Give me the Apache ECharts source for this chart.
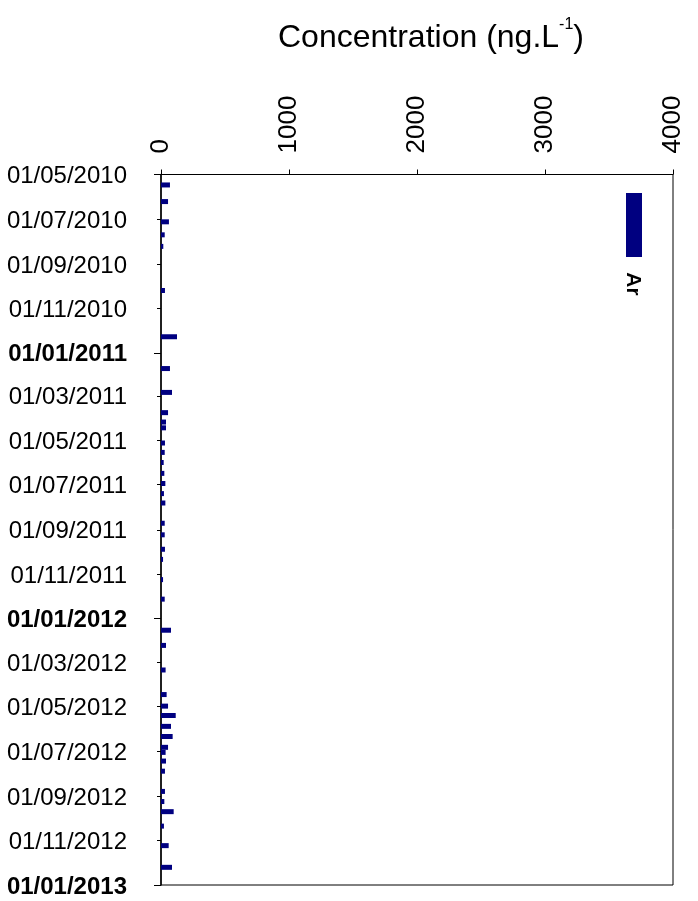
<!DOCTYPE html>
<html>
<head>
<meta charset="utf-8">
<script src="https://cdn.jsdelivr.net/npm/echarts@6/dist/echarts.min.js"></script>
<style>html,body{margin:0;padding:0;background:#fff;}#c{width:698px;height:901px;}</style>
</head>
<body>
<div id="c"></div>
<script>
// Sampling dates and Ar concentrations (ng/L)
var sampleDates = ['2010-05-12','2010-06-04','2010-07-02','2010-07-20','2010-08-05','2010-10-05','2010-12-08',
  '2011-01-21','2011-02-23','2011-03-23','2011-04-05','2011-04-13','2011-05-04','2011-05-17','2011-05-31',
  '2011-06-15','2011-06-29','2011-07-13','2011-07-26','2011-08-23','2011-09-08','2011-09-28','2011-10-12',
  '2011-11-09','2011-12-06','2012-01-18','2012-02-08','2012-03-13','2012-04-16','2012-05-02','2012-05-15',
  '2012-05-30','2012-06-13','2012-06-28','2012-07-05','2012-07-17','2012-07-31','2012-08-28','2012-09-11',
  '2012-09-25','2012-10-15','2012-11-11','2012-12-11'];
var arValues = [70,55,62,29,18,31,125,
  70,86,55,39,39,31,29,21,
  26,34,23,34,29,29,31,16,
  16,29,78,39,36,44,55,115,
  78,91,55,36,39,31,31,26,
  99,23,60,86];
var yTickLabels = ['01/05/2010','01/07/2010','01/09/2010','01/11/2010','01/01/2011','01/03/2011','01/05/2011',
  '01/07/2011','01/09/2011','01/11/2011','01/01/2012','01/03/2012','01/05/2012','01/07/2012','01/09/2012',
  '01/11/2012','01/01/2013'];
var xMin = 0, xMax = 4000, xInterval = 1000;
var seriesName = 'Ar';

function ts(s){ var p = s.split('-'); return new Date(+p[0], +p[1]-1, +p[2]).getTime(); }
function tsLabel(s){ var p = s.split('/'); return new Date(+p[2], +p[1]-1, +p[0]).getTime(); }
var tickVals = yTickLabels.map(tsLabel);
var majorVals = yTickLabels.filter(function(l, i){ return i === 0 || l.indexOf('01/01/') === 0; }).map(tsLabel);
var data = sampleDates.map(function(d, i){ return [arValues[i], ts(d)]; });
var FONT = 'Liberation Sans, Arial, sans-serif';
var yMin = tickVals[0], yMax = tickVals[tickVals.length-1];

var chart = echarts.init(document.getElementById('c'), null, {renderer:'canvas'});
chart.setOption({
  animation: false,
  backgroundColor: '#fff',
  title: {
    text: '{a|Concentration (ng.L}{s|-1}{a|)}',
    left: 273, top: 12,
    textStyle: {
      fontWeight: 'normal',
      rich: {
        a: {fontSize: 32, fontWeight: 'normal', fontFamily: FONT, color: '#000', lineHeight: 42},
        s: {fontSize: 16, fontWeight: 'normal', fontFamily: FONT, color: '#000', verticalAlign: 'top', lineHeight: 22}
      }
    }
  },
  grid: {left: 161, right: 25, top: 174.5, bottom: 16, show: true, borderColor: '#000', borderWidth: 1, containLabel: false},
  xAxis: {
    type: 'value', position: 'top', min: xMin, max: xMax, interval: xInterval,
    axisLine: {show: true, lineStyle: {color: '#000', width: 1}},
    axisTick: {show: true, length: 5, lineStyle: {color: '#000'}},
    splitLine: {show: false},
    axisLabel: {rotate: -90, fontSize: 26, fontFamily: FONT, color: '#000', margin: 21,
      formatter: function(v){ return String(v); }}
  },
  yAxis: [{
    type: 'time', inverse: true, min: yMin, max: yMax,
    axisLine: {show: true, lineStyle: {color: '#000', width: 1.5}},
    axisTick: {show: false}, axisLabel: {show: false}, splitLine: {show: false}
  }, {
    type: 'value', inverse: true, min: yMin, max: yMax, position: 'left',
    axisLine: {show: false},
    axisTick: {show: true, length: 4, customValues: tickVals, lineStyle: {color: '#000'}},
    splitLine: {show: false},
    axisLabel: {
      customValues: tickVals, fontSize: 24, fontFamily: FONT, color: '#000', margin: 34,
      padding: [4, 0, 0, 0],
      formatter: function(v){
        var i = tickVals.indexOf(v);
        var s = i >= 0 ? yTickLabels[i] : '';
        return s.indexOf('01/01/') === 0 ? '{b|' + s + '}' : s;
      },
      rich: {b: {fontWeight: 'bold', fontSize: 24, fontFamily: FONT, color: '#000'}}
    }
  }, {
    type: 'value', inverse: true, min: yMin, max: yMax, position: 'left',
    axisLine: {show: false},
    axisTick: {show: true, length: 7, customValues: majorVals, lineStyle: {color: '#000'}},
    axisLabel: {show: false},
    splitLine: {show: false}
  }],
  series: [{
    name: seriesName, type: 'bar', yAxisIndex: 0, data: data, barWidth: 5,
    itemStyle: {color: '#000080'}
  }],
  graphic: [
    {type: 'rect', shape: {x: 626, y: 193, width: 16, height: 64}, style: {fill: '#000080'}},
    {type: 'text', x: 633, y: 284, rotation: -Math.PI/2,
     style: {text: seriesName, font: 'bold 21px Liberation Sans, Arial, sans-serif', fill: '#000', textAlign: 'center', textVerticalAlign: 'middle'}}
  ]
});
</script>
</body>
</html>
